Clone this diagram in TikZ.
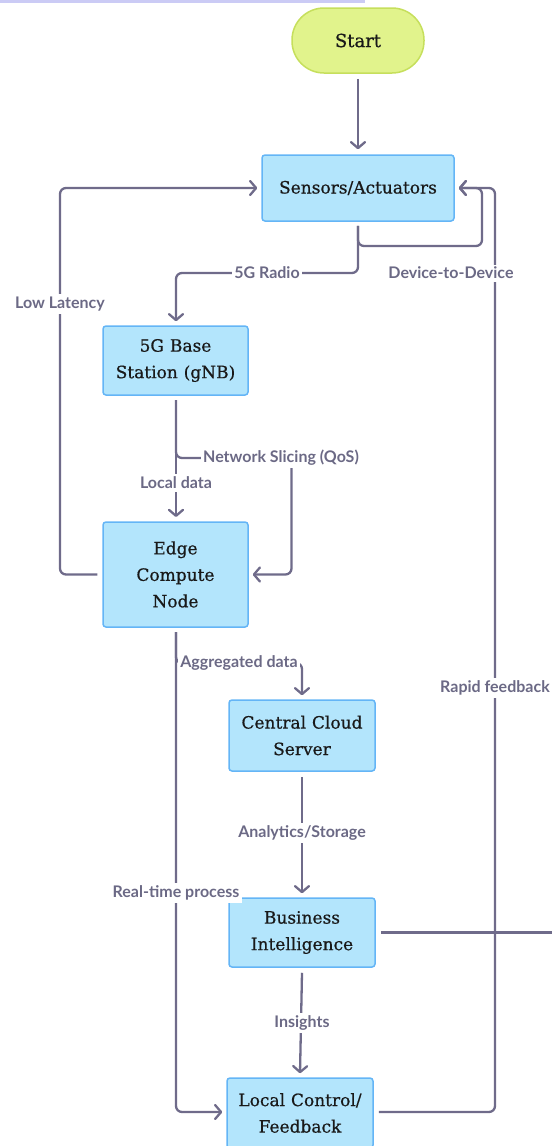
\documentclass[tikz,border=0pt]{standalone}
\usepackage{fontspec}
\setmainfont{DejaVu Serif}
\newfontfamily\nodefont{DejaVu Serif}[FakeBold=0.6]
\newfontfamily\lblfont{Lato}
\usetikzlibrary{arrows.meta}
\definecolor{boxfill}{HTML}{B3E5FC}
\definecolor{boxdraw}{HTML}{64B5F6}
\definecolor{startfill}{HTML}{E1F38C}
\definecolor{startdraw}{HTML}{C6DF5C}
\definecolor{edgecol}{HTML}{6F6B8A}
\definecolor{lblcol}{HTML}{6B6985}
\definecolor{topline}{HTML}{CBCBF5}
\newcommand{\wsp}{\hspace{0.35em}}
\tikzset{
  procbox/.style={draw=boxdraw, fill=boxfill, line width=1.5pt, rounded corners=3pt,
    align=center, font=\nodefont\fontsize{17}{26.5}\selectfont, text=black!90, inner sep=0pt},
  startbox/.style={draw=startdraw, fill=startfill, line width=1.5pt, rounded corners=32pt,
    align=center, font=\nodefont\fontsize{18}{20}\selectfont, text=black!90, inner sep=0pt},
  conn/.style={draw=edgecol, line width=2.3pt, rounded corners=6pt,
    -{Straight Barb[length=6pt,width=14pt,round]}},
  plain/.style={draw=edgecol, line width=2.3pt, rounded corners=6pt},
  lbl/.style={fill=white, text=lblcol, font=\lblfont\bfseries\fontsize{16}{18}\selectfont, inner sep=2.5pt}
}
\begin{document}
\begin{tikzpicture}[x=1pt,y=-1pt]
\useasboundingbox (0,0) rectangle (552,1146);
\fill[topline] (0,0) rectangle (365,2.5);

% nodes
\node[startbox, minimum width=132pt, minimum height=65pt] (start) at (358,40.5) {Start};
\node[procbox, minimum width=192pt, minimum height=66pt] (sens) at (358,188) {Sensors/Actuators};
\node[procbox, minimum width=145pt, minimum height=69pt] (bs) at (175.5,360.5) {5G\wsp Base\\Station\wsp (gNB)};
\node[procbox, minimum width=145pt, minimum height=105pt] (edge) at (175.5,574.5) {Edge\\Compute\\Node};
\node[procbox, minimum width=146pt, minimum height=71pt] (cloud) at (302,735.5) {Central\wsp Cloud\\Server};
\node[procbox, minimum width=146pt, minimum height=69pt] (bi) at (302,932.5) {Business\\Intelligence};
\node[procbox, minimum width=146pt, minimum height=70pt] (lc) at (300,1113) {Local\wsp Control/\\Feedback};

\coordinate (offpage) at (552,932.5);

% connectors
\draw[conn] ([yshift=-5pt]start.south) -- ([yshift=5pt]sens.north);
\draw[conn] ([yshift=-4pt]sens.south) |- (176,273) -- ([yshift=4pt]bs.north -| 176,0);
\draw[conn] ([yshift=-4pt]sens.south) -- (358,246) -| (482,188) -- ([xshift=4pt]sens.east);
\draw[conn] ([xshift=5pt]lc.east |- 0,1112) -| (495,188) -- ([xshift=4pt]sens.east);
\draw[conn] ([xshift=-5pt]edge.west) -| (60,188) -- ([xshift=-4pt]sens.west);
\draw[conn] (176,400) -- (176,517);
\draw[conn] (176,400) |- (291.5,458) |- ([xshift=4pt]edge.east);
\draw[conn] (176,632) |- (302,663) -- ([yshift=4pt]cloud.north);
\draw[conn] (176,632) |- ([xshift=-4pt]lc.west |- 0,1112);
\draw[conn] ([yshift=-5pt]cloud.south) -- ([yshift=4pt]bi.north);
\draw[conn] ([yshift=-5pt]bi.south) -- ([yshift=4pt]lc.north);
\draw[plain] ([xshift=5pt]bi.east) -- (offpage);

% labels
\node[lbl] (l5g) at (267,273) {5G Radio};
\node[lbl] (ld2d) at (451,273) {Device-to-Device};
\node[lbl] (llow) at (60,304) {Low Latency};
\node[lbl] (lns) at (281,458) {Network Slicing (QoS)};
\node[lbl] (lld) at (176,483) {Local data};
\node[lbl] (lagg) at (239,663) {Aggregated data};
\node[lbl] (lrt) at (176,893) {Real-time process};
\node[lbl] (lan) at (302,833) {Analytics/Storage};
\node[lbl] (lins) at (302,1023) {Insights};
\node[lbl] (lrap) at (495,688) {Rapid feedback};
\end{tikzpicture}
\end{document}
